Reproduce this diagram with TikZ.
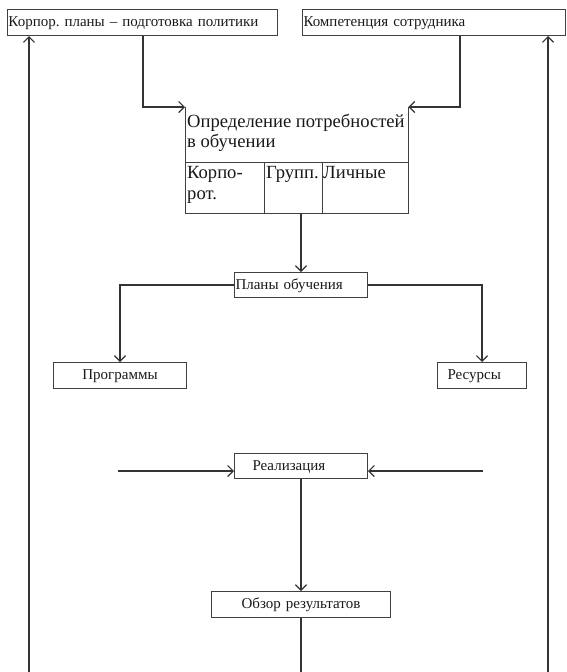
\documentclass[tikz,border=0pt]{standalone}
\usepackage{fontspec}
\setmainfont{Liberation Serif}
\usetikzlibrary{arrows.meta}
\frenchspacing
\begin{document}
\begin{tikzpicture}[x=1pt,y=-1pt,
  box/.style={draw=black!75, line width=1pt, rectangle, anchor=north west,
    inner ysep=0pt, text height=8pt, text depth=0pt,
    font=\fontsize{15}{18}\selectfont, text=black!90},
  cellbox/.style={draw=black!75, line width=1pt, rectangle, anchor=north west,
    inner sep=0pt, minimum height=51pt},
  frame/.style={draw=black!75, line width=1pt},
  big/.style={font=\fontsize{18.6}{21}\selectfont, anchor=base west, inner sep=0pt, text=black!90},
  flow/.style={draw=black!80, line width=1.2pt, -{Straight Barb[length=5.5pt,width=11pt]}},
  plain/.style={draw=black!80, line width=1.2pt}
]
\useasboundingbox (0,0) rectangle (566,672);

% top input boxes
\node[box, minimum width=270pt, minimum height=26pt, text width=268pt, inner xsep=1pt, align=left]
  (corp) at (7,9) {Корпор. планы – подготовка политики};
\node[box, minimum width=263pt, minimum height=26pt, text width=261pt, inner xsep=1pt, align=left]
  (comp) at (302,9) {Компетенция сотрудника};

% training needs block (open at the top)
\node[anchor=north west, minimum width=223pt, minimum height=55pt, inner sep=0pt] (need) at (185,107) {};
\draw[frame] (need.north west) -- (need.south west) -- (need.south east) -- (need.north east);
\node[big] (needa) at (187,127) {Определение потребностей};
\node[big] (needb) at (187,147) {в обучении};

\node[cellbox, minimum width=79pt] (corpcell) at (185,162) {};
\node[cellbox, minimum width=58pt] (groupcell) at (264,162) {};
\node[cellbox, minimum width=86pt] (perscell) at (322,162) {};
\node[big] (corpa) at (187,178) {Корпо-};
\node[big] (corpb) at (187,199) {рот.};
\node[big] (grouptxt) at (266,178) {Групп.};
\node[big] (perstxt) at (323,178) {Личные};

% planning level
\node[box, minimum width=133pt, minimum height=25pt, text width=131pt, inner xsep=1pt, align=left]
  (plans) at (234,272) {Планы обучения};
\node[box, minimum width=133pt, minimum height=26pt, text width=131pt, inner xsep=1pt, align=center]
  (progs) at (53,362) {Программы};
\node[box, minimum width=89pt, minimum height=26pt, text width=69pt, inner xsep=10pt, align=left]
  (res) at (437,362) {Ресурсы};

% execution and review
\node[box, minimum width=133pt, minimum height=25pt, text width=97pt, inner xsep=18pt, align=left]
  (impl) at (234,453) {Реализация};
\node[box, minimum width=179pt, minimum height=26pt, text width=177pt, inner xsep=1pt, align=center]
  (review) at (211,591) {Обзор результатов};

% free ends
\coordinate (leftin) at (118,471);
\coordinate (rightin) at (483,471);
\coordinate (bottom) at (0,672);
\coordinate (lstart) at (29,672);
\coordinate (rstart) at (548,672);

% connectors
\draw[flow] ([xshift=136pt]corp.south west) |- (need.north west);
\draw[flow] ([xshift=158pt]comp.south west) |- (need.north east);
\draw[flow] (plans.north |- groupcell.south) -- (plans.north);
\draw[flow] (plans.west) -| (progs.north);
\draw[flow] (plans.east) -| (res.north);
\draw[flow] (leftin) -- (leftin -| impl.west);
\draw[flow] (rightin) -- (rightin -| impl.east);
\draw[flow] (impl.south) -- (review.north);
\draw[plain] (review.south) -- (review.south |- bottom);
\draw[flow] (lstart) -- (lstart |- corp.south);
\draw[flow] (rstart) -- (rstart |- comp.south);
\end{tikzpicture}
\end{document}
